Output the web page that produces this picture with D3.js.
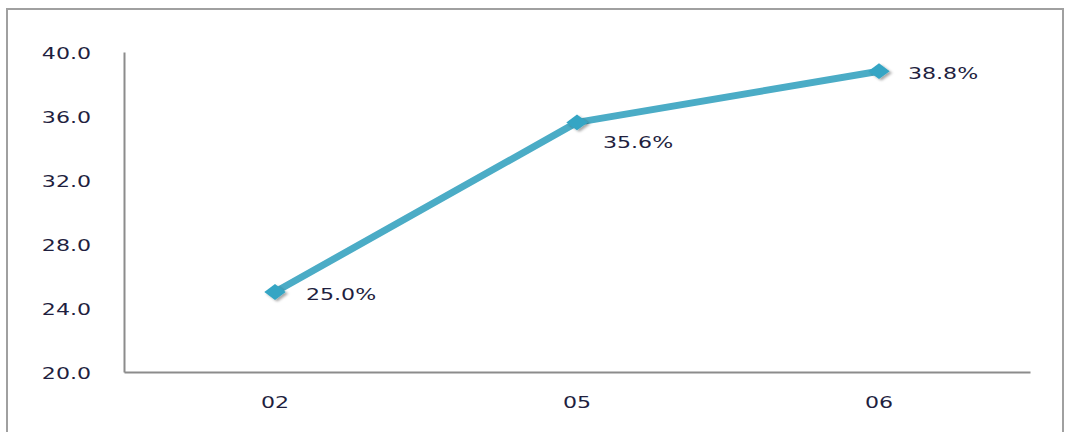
<!DOCTYPE html>
<html>
<head>
<meta charset="utf-8">
<script src="https://cdn.jsdelivr.net/npm/d3@7"></script>
<style>
  body { margin: 0; background: #fff; }
  svg text { font-family: "DejaVu Sans", Verdana, sans-serif; fill: #1f1f3f; }
</style>
</head>
<body>
<div id="chart"></div>
<script>
// Data
var categories = ['02', '05', '06'];
var values = [25.0, 35.6, 38.8];
var labels = ['25.0%', '35.6%', '38.8%'];
var yTicks = [20, 24, 28, 32, 36, 40];

var width = 1068;
var height = 432;
var margin = { top: 52, right: 38, bottom: 60, left: 124 };
var font = '"DejaVu Sans", Verdana, sans-serif';
var stretch = 1.38; // reference text is drawn wide

// widen a text element keeping its anchor
function widen(sel) {
    sel.each(function () {
        var w = this.getComputedTextLength();
        d3.select(this)
            .attr('textLength', w * stretch)
            .attr('lengthAdjust', 'spacingAndGlyphs');
    });
}

var svg = d3.select('#chart')
    .append('svg')
    .attr('width', width)
    .attr('height', height);

// shadow for markers
var defs = svg.append('defs');
var filter = defs.append('filter').attr('id', 'shadow')
    .attr('x', '-50%').attr('y', '-50%').attr('width', '200%').attr('height', '200%');
filter.append('feDropShadow')
    .attr('dx', 2).attr('dy', 2).attr('stdDeviation', 1.5)
    .attr('flood-color', '#000').attr('flood-opacity', 0.35);

// outer border
svg.append('rect')
    .attr('x', 7).attr('y', 9)
    .attr('width', 1056).attr('height', 440)
    .attr('fill', 'none')
    .attr('stroke', '#a0a0a0')
    .attr('stroke-width', 2);

var xScale = d3.scaleBand()
    .domain(categories)
    .range([margin.left, width - margin.right]);

var yScale = d3.scaleLinear()
    .domain([20, 40])
    .range([height - margin.bottom, margin.top]);

// Axes
var yAxis = d3.axisLeft(yScale)
    .tickValues(yTicks)
    .tickSize(0)
    .tickPadding(33)
    .tickFormat(d3.format('.1f'));

svg.append('g')
    .attr('transform', 'translate(' + margin.left + ',0)')
    .call(yAxis)
    .attr('font-family', font)
    .call(g => g.select('.domain').attr('stroke', '#8c8c8c').attr('stroke-width', 2))
    .selectAll('text')
    .style('font-size', '16px')
    .attr('dy', '0.38em')
    .call(widen);

var xAxis = d3.axisBottom(xScale)
    .tickSize(0)
    .tickPadding(25);

svg.append('g')
    .attr('transform', 'translate(0,' + (height - margin.bottom) + ')')
    .call(xAxis)
    .attr('font-family', font)
    .call(g => g.select('.domain').attr('stroke', '#8c8c8c').attr('stroke-width', 2))
    .selectAll('text')
    .style('font-size', '16px')
    .call(widen);

// Line
var line = d3.line()
    .x((d, i) => xScale(categories[i]) + xScale.bandwidth() / 2)
    .y(d => yScale(d));

svg.append('path')
    .datum(values)
    .attr('d', line)
    .attr('fill', 'none')
    .attr('stroke', '#4bacc6')
    .attr('stroke-width', 7)
    .attr('stroke-linejoin', 'round');

// Markers
svg.selectAll('.marker')
    .data(values)
    .enter()
    .append('path')
    .attr('class', 'marker')
    .attr('d', d3.symbol().type(d3.symbolDiamond2).size(220))
    .attr('transform', (d, i) => 'translate(' + (xScale(categories[i]) + xScale.bandwidth() / 2) + ',' + yScale(d) + ') scale(1.15,0.85)')
    .attr('fill', '#34a5c4')
    .attr('filter', 'url(#shadow)');

// Data labels
var labelOffset = [[31, 2], [26, 20], [29, 2]];
svg.selectAll('.dlabel')
    .data(values)
    .enter()
    .append('text')
    .attr('class', 'dlabel')
    .attr('x', (d, i) => xScale(categories[i]) + xScale.bandwidth() / 2 + labelOffset[i][0])
    .attr('y', (d, i) => yScale(d) + labelOffset[i][1])
    .attr('dy', '0.38em')
    .style('font-size', '16px')
    .text((d, i) => labels[i])
    .call(widen);
</script>
</body>
</html>
